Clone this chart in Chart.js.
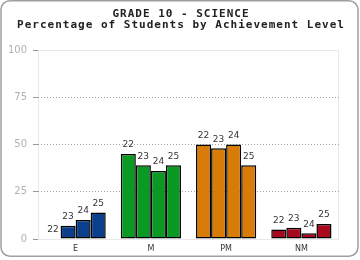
<!DOCTYPE html>
<html>
<head>
<meta charset="utf-8">
<script src="https://cdn.jsdelivr.net/npm/chart.js@4"></script>
<style>
  body { margin: 0; background: #fff; }
  canvas { display: block; }
</style>
</head>
<body>
<canvas id="chart" width="360" height="260"></canvas>
<script>
// Data
const categories = ['E', 'M', 'PM', 'NM'];
const years = ['22', '23', '24', '25'];
const values22 = [0, 45, 50, 5];
const values23 = [7, 39, 48, 6];
const values24 = [10, 36, 50, 3];
const values25 = [14, 39, 39, 8];
const yTicks = [0, 25, 50, 75, 100];
const titleLines = ['GRADE 10 - SCIENCE', 'Percentage of Students by Achievement Level'];

const levelColors = ['#0b3f8c', '#0a9a24', '#d87b07', '#a8091f'];

// Frame, plot box and title
const framePlugin = {
    id: 'frame',
    beforeDraw(chart) {
        const ctx = chart.ctx;
        const a = chart.chartArea;
        ctx.save();
        ctx.strokeStyle = '#e8e8e8';
        ctx.lineWidth = 1;
        ctx.strokeRect(a.left + 0.5, a.top + 0.5, a.right - a.left - 1, a.bottom - a.top);
        ctx.restore();
    },
    afterDraw(chart) {
        const ctx = chart.ctx;
        ctx.save();
        ctx.strokeStyle = '#a0a0a0';
        ctx.lineWidth = 1.5;
        ctx.beginPath();
        ctx.roundRect(1, 0.75, 357, 255.5, 9);
        ctx.stroke();

        ctx.fillStyle = '#222';
        ctx.font = 'bold 11px "DejaVu Sans Mono"';
        ctx.textAlign = 'center';
        ctx.textBaseline = 'middle';
        if ('letterSpacing' in ctx) ctx.letterSpacing = '1px';
        ctx.fillText(titleLines[0], 181, 14);
        ctx.fillText(titleLines[1], 181, 25);
        ctx.restore();
    }
};

// Year labels above bars
const barLabels = {
    id: 'barLabels',
    afterDatasetsDraw(chart) {
        const ctx = chart.ctx;
        ctx.save();
        ctx.font = '9px "DejaVu Sans"';
        ctx.fillStyle = '#333';
        ctx.textAlign = 'center';
        ctx.textBaseline = 'middle';
        chart.data.datasets.forEach((ds, i) => {
            chart.getDatasetMeta(i).data.forEach(bar => {
                ctx.fillText(ds.label, bar.x, bar.y - 9);
            });
        });
        ctx.restore();
    }
};

const seriesValues = [values22, values23, values24, values25];

new Chart(document.getElementById('chart'), {
    type: 'bar',
    data: {
        labels: categories,
        datasets: years.map((y, i) => ({
            label: y,
            data: seriesValues[i],
            backgroundColor: levelColors,
            borderColor: '#000',
            borderWidth: 1.5,
            borderSkipped: false,
            categoryPercentage: 0.8,
            barPercentage: 1.0
        }))
    },
    options: {
        responsive: false,
        animation: false,
        layout: { padding: { top: 50, right: 21, left: 0, bottom: 0 } },
        plugins: {
            legend: { display: false },
            title: { display: false },
            tooltip: { enabled: false }
        },
        scales: {
            x: {
                grid: { display: false, drawTicks: false },
                border: { display: false },
                ticks: {
                    color: '#333',
                    padding: 5,
                    font: { family: 'DejaVu Sans', size: 8 }
                },
                afterFit: s => { s.height = 21; }
            },
            y: {
                min: 0,
                max: 100,
                afterBuildTicks: s => { s.ticks = yTicks.map(v => ({ value: v })); },
                grid: {
                    color: c => (c.tick && (c.tick.value === 0 || c.tick.value === 100)) ? 'rgba(0,0,0,0)' : '#a0a0a0',
                    tickColor: '#999',
                    tickLength: 5,
                    lineWidth: 1
                },
                border: { display: false, dash: [1, 2] },
                ticks: {
                    color: '#b0b0b0',
                    padding: 6,
                    font: { family: 'DejaVu Sans', size: 10 }
                },
                afterFit: s => { s.width = 38; }
            }
        }
    },
    plugins: [framePlugin, barLabels]
});
</script>
</body>
</html>
